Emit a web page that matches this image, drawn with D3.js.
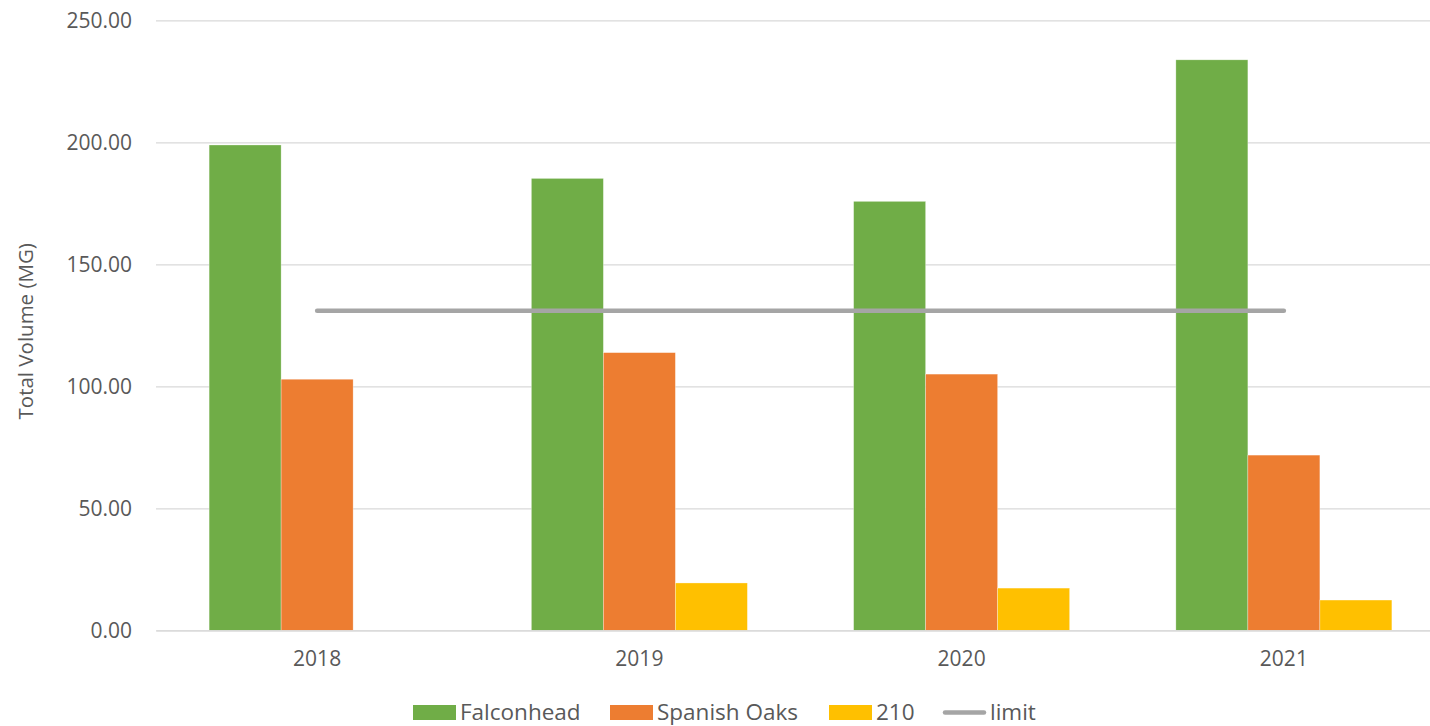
<!DOCTYPE html>
<html>
<head>
<meta charset="utf-8">
<script src="https://cdnjs.cloudflare.com/ajax/libs/d3/7.8.5/d3.min.js"></script>
<style>
  html, body { margin: 0; padding: 0; background: #fff; }
  svg { display: block; }
  text { font-family: "Open Sans", Lato, sans-serif; fill: #595959; }
</style>
</head>
<body>
<svg id="chart" width="1430" height="726"></svg>
<script>
// Annual totals (MG) per source
const years = ["2018", "2019", "2020", "2021"];
const seriesNames = ["Falconhead", "Spanish Oaks", "210"];
const falconhead = [198.9, 185.2, 175.8, 233.8];
const spanishOaks = [102.9, 113.8, 105.0, 71.8];
const site210 = [0, 19.4, 17.3, 12.4];
const limit = [131.0, 131.0, 131.0, 131.0];
const yTicks = [0, 50, 100, 150, 200, 250];
const colors = ["#70AD47", "#ED7D31", "#FFC000"];
const limitColor = "#A5A5A5";

const seriesValues = [falconhead, spanishOaks, site210];
const FONT = "'Open Sans', Lato, sans-serif";
const FS = 21;
const FS_LEGEND = 22.5;

const svg = d3.select("#chart");
const plotLeft = 156, plotRight = 1445, plotTop = 20.3, plotBottom = 630.3;

const y = d3.scaleLinear().domain([0, 250]).range([plotBottom, plotTop]);
const x = d3.scaleBand().domain(years).range([plotLeft, plotRight])
  .paddingInner(0.3297).paddingOuter(0.3297 / 2);
const xs = d3.scaleBand().domain(seriesNames).range([0, x.bandwidth()]).padding(0);

// Horizontal gridlines and value labels
const yAxis = d3.axisLeft(y).tickValues(yTicks).tickFormat(d3.format(".2f"))
  .tickSize(-(plotRight - plotLeft)).tickPadding(24);
const gy = svg.append("g").attr("transform", `translate(${plotLeft},0)`).call(yAxis);
gy.select(".domain").remove();
gy.selectAll(".tick line").attr("stroke", "#D9D9D9").attr("stroke-width", 1.3);
gy.selectAll(".tick text").attr("font-size", FS).attr("fill", "#595959")
  .style("font-family", FONT);

// Bars
seriesNames.forEach((name, si) => {
  svg.append("g").selectAll("rect")
    .data(years.map((yr, i) => ({ yr, v: seriesValues[si][i] })))
    .join("rect")
    .attr("x", d => x(d.yr) + xs(name))
    .attr("width", xs.bandwidth())
    .attr("y", d => y(d.v))
    .attr("height", d => y(0) - y(d.v))
    .attr("fill", colors[si])
    .attr("stroke", "#ffffff")
    .attr("stroke-opacity", 0.5)
    .attr("stroke-width", 0.6);
});

// Category axis along the zero line
const xAxis = d3.axisBottom(x).tickSize(0).tickPadding(21);
const gx = svg.append("g").attr("transform", `translate(0,${plotBottom})`).call(xAxis);
gx.select(".domain").attr("stroke", "#D9D9D9").attr("stroke-width", 1.3);
gx.selectAll(".tick text").attr("font-size", FS).attr("fill", "#595959")
  .style("font-family", FONT);

// Limit line through category centres
const line = d3.line()
  .x((d, i) => x(years[i]) + x.bandwidth() / 2)
  .y(d => y(d));
svg.append("path").datum(limit)
  .attr("d", line)
  .attr("fill", "none")
  .attr("stroke", limitColor)
  .attr("stroke-width", 4.5)
  .attr("stroke-linecap", "round");

// Y axis title
svg.append("text")
  .attr("transform", `translate(33,${(plotTop + plotBottom) / 2 + 6}) rotate(-90)`)
  .attr("text-anchor", "middle")
  .attr("font-size", 20.5)
  .text("Total Volume (MG)");

// Legend
const legendItems = [
  { name: "Falconhead", color: colors[0], type: "rect", x: 413 },
  { name: "Spanish Oaks", color: colors[1], type: "rect", x: 610 },
  { name: "210", color: colors[2], type: "rect", x: 829 },
  { name: "limit", color: limitColor, type: "line", x: 943 }
];
const ly = 712.5;
const lg = svg.append("g");
legendItems.forEach(it => {
  if (it.type === "rect") {
    lg.append("rect").attr("x", it.x).attr("y", ly - 7.5)
      .attr("width", 43).attr("height", 15).attr("fill", it.color);
  } else {
    lg.append("line").attr("x1", it.x + 2).attr("x2", it.x + 41)
      .attr("y1", ly).attr("y2", ly)
      .attr("stroke", it.color).attr("stroke-width", 4.5).attr("stroke-linecap", "round");
  }
  lg.append("text").attr("x", it.x + 47).attr("y", ly).attr("dy", "0.35em")
    .attr("font-size", FS_LEGEND).text(it.name);
});
</script>
</body>
</html>
